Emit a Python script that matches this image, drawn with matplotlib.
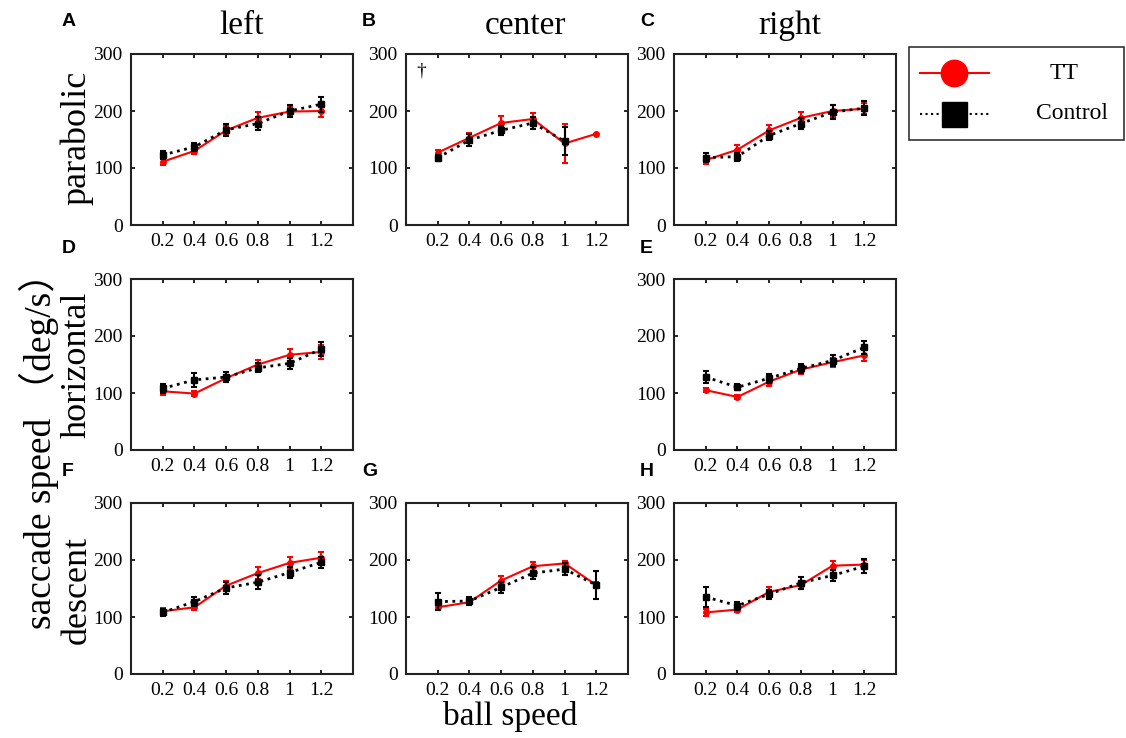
import numpy as np
import matplotlib
matplotlib.use('Agg')
import matplotlib.pyplot as plt
from matplotlib.patches import Rectangle

plt.rcParams['font.family'] = ['Liberation Serif', 'Noto Sans CJK SC']
plt.rcParams['mathtext.fontset'] = 'stix'

# 数据
ball_speed = [0.2, 0.4, 0.6, 0.8, 1.0, 1.2]
tick_labels = ['0.2', '0.4', '0.6', '0.8', '1', '1.2']
nan = np.nan

tt_A = [111, 130, 166, 188, 199, 200]
tt_A_err = [5, 5, 8, 10, 8, 10]
ct_A = [123, 137, 167, 178, 200, 212]
ct_A_err = [7, 7, 10, 12, 10, 13]

tt_B = [127, 153, 179, 186, 143, 160]
tt_B_err = [5, 8, 12, 10, 34, 0]
ct_B = [118, 149, 166, 179, 147, nan]
ct_B_err = [5, 10, 8, 10, 25, nan]

tt_C = [114, 132, 166, 188, 200, 204]
tt_C_err = [7, 8, 10, 10, 10, 10]
ct_C = [118, 120, 157, 178, 198, 205]
ct_C_err = [8, 7, 8, 10, 12, 12]

tt_D = [103, 99, 126, 150, 167, 172]
tt_D_err = [6, 4, 6, 8, 10, 12]
ct_D = [108, 123, 128, 144, 152, 177]
ct_D_err = [8, 12, 8, 8, 10, 12]

tt_E = [105, 93, 120, 141, 154, 166]
tt_E_err = [4, 4, 8, 7, 8, 10]
ct_E = [128, 110, 126, 143, 157, 180]
ct_E_err = [10, 5, 8, 8, 10, 12]

tt_F = [110, 117, 155, 177, 195, 204]
tt_F_err = [5, 4, 8, 10, 10, 10]
ct_F = [108, 127, 151, 161, 178, 196]
ct_F_err = [6, 8, 10, 12, 10, 10]

tt_G = [117, 126, 164, 189, 194, 156]
tt_G_err = [5, 5, 8, 8, 5, 5]
ct_G = [127, 128, 152, 177, 184, 156]
ct_G_err = [15, 7, 10, 10, 10, 25]

tt_H = [108, 113, 144, 156, 190, 192]
tt_H_err = [6, 5, 8, 7, 8, 8]
ct_H = [135, 120, 140, 160, 173, 189]
ct_H_err = [18, 7, 8, 10, 10, 12]

panels = {
    'A': (0, 0, tt_A, tt_A_err, ct_A, ct_A_err),
    'B': (0, 1, tt_B, tt_B_err, ct_B, ct_B_err),
    'C': (0, 2, tt_C, tt_C_err, ct_C, ct_C_err),
    'D': (1, 0, tt_D, tt_D_err, ct_D, ct_D_err),
    'E': (1, 2, tt_E, tt_E_err, ct_E, ct_E_err),
    'F': (2, 0, tt_F, tt_F_err, ct_F, ct_F_err),
    'G': (2, 1, tt_G, tt_G_err, ct_G, ct_G_err),
    'H': (2, 2, tt_H, tt_H_err, ct_H, ct_H_err),
}

W, H = 1126, 738
fig = plt.figure(figsize=(W / 100, H / 100), dpi=100)

col_left = [131, 406, 674]
row_top = [54, 279, 503]
ax_w, ax_h = 222, 171
letter_x = [62, 362, 640]
letter_y = [22, 248, 472]

for letter, (r, c, tt, tt_err, ct, ct_err) in panels.items():
    ax = fig.add_axes([col_left[c] / W, 1 - (row_top[r] + ax_h) / H, ax_w / W, ax_h / H])
    # 对照组：黑色虚线 + 方块
    ax.errorbar(ball_speed, ct, yerr=ct_err, color='black', ls=':', lw=2,
                marker='s', ms=4, capsize=2, elinewidth=1.5, capthick=1.5, zorder=3)
    # TT组：红色实线 + 圆点
    ax.errorbar(ball_speed, tt, yerr=tt_err, color='red', ls='-', lw=1.5,
                marker='o', ms=4, capsize=2, elinewidth=1.5, capthick=1.5, zorder=2)
    ax.set_xlim(0, 1.4)
    ax.set_ylim(0, 300)
    ax.set_xticks(ball_speed)
    ax.set_xticklabels(tick_labels)
    ax.set_yticks([0, 100, 200, 300])
    ax.tick_params(direction='in', top=True, right=True, labelsize=14, length=3,
                   width=1.2, pad=6)
    for s in ax.spines.values():
        s.set_linewidth(1.5)
        s.set_color('#222222')
    fig.text(letter_x[c] / W, 1 - letter_y[r] / H, letter,
             family='Liberation Sans', weight='bold', fontsize=14, ha='left', va='center')
    if letter == 'B':
        ax.text(0.07, 0.9, '†', transform=ax.transAxes, fontsize=14, ha='center', va='center')

# 列标题、行标题
for name, xc in zip(['left', 'center', 'right'], [242, 525, 790]):
    fig.text(xc / W, 1 - 26 / H, name, fontsize=24, ha='center', va='center')
for name, yc in zip(['parabolic', 'horizontal', 'descent'], [138, 365, 590]):
    fig.text(77 / W, 1 - yc / H, name, fontsize=26, rotation=90, ha='center', va='center')

fig.text(39 / W, 1 - 442 / H, 'saccade speed （deg/s）', fontsize=27, rotation=90,
         ha='center', va='center')
fig.text(510 / W, 1 - 717 / H, 'ball speed', fontsize=24, ha='center', va='center')

# 图例
lax = fig.add_axes([909 / W, 1 - 140 / H, 215 / W, 93 / H])
lax.set_xlim(0, 1)
lax.set_ylim(0, 1)
lax.axis('off')
lax.add_patch(Rectangle((0, 0), 1, 1, fill=False, lw=1.2, ec='#333333', transform=lax.transAxes, clip_on=False))
lax.plot([0.05, 0.21, 0.37], [0.72] * 3, color='red', lw=1.5, marker='o', ms=19, markevery=[1])
lax.plot([0.05, 0.21, 0.37], [0.28] * 3, color='black', lw=1.5, ls=':', marker='s', ms=18, markevery=[1])
lax.text(0.72, 0.72, 'TT', fontsize=17, ha='center', va='center')
lax.text(0.76, 0.28, 'Control', fontsize=17, ha='center', va='center')

fig.savefig('out.png', dpi=100)
